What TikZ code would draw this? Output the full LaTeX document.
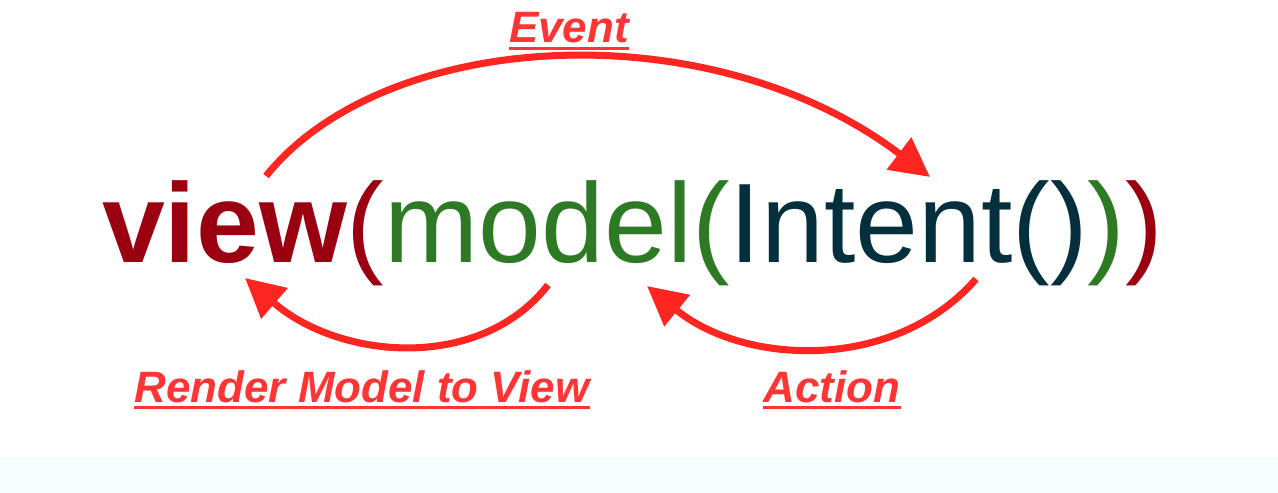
\documentclass[tikz,border=0pt]{standalone}
\usepackage{fontspec}
\setmainfont{Liberation Sans}
\usepackage{xcolor}
\definecolor{ViewRed}{HTML}{9A0010}
\definecolor{ModelGreen}{HTML}{2E7A24}
\definecolor{IntentNavy}{HTML}{04303D}
\definecolor{FlowRed}{HTML}{FF2622}
\definecolor{LabelRed}{HTML}{FF3535}
\definecolor{BandBg}{HTML}{F6FDFE}
\usepackage{tikz}
\usetikzlibrary{arrows.meta}
\tikzset{
  exprpart/.style={
    inner sep=0pt,
    outer sep=0pt,
    anchor=base west,
    font=\fontsize{64.3}{70}\selectfont
  },
  exprbold/.style={
    exprpart,
    font=\fontsize{64.3}{70}\selectfont\bfseries
  },
  flowlabel/.style={
    text=LabelRed,
    inner sep=0pt,
    anchor=base,
    font=\fontsize{25}{30}\selectfont\bfseries\itshape
  },
  labelrule/.style={
    draw=LabelRed,
    line width=1.7pt
  },
  flowline/.style={
    draw=FlowRed,
    line width=4pt,
    -{Triangle[length=0.78cm,width=0.78cm]}
  }
}

\begin{document}
\begin{tikzpicture}[x=0.02cm,y=-0.02cm]
  \useasboundingbox (0,0) rectangle (1278,493);
  \fill[BandBg] (0,457) rectangle (1278,493);
  % the expression
  \node[exprbold, text=ViewRed] (view) at (102,263) {view};
  \node[exprpart, text=ViewRed] (viewopen) at (view.base east) {(};
  \node[exprpart, text=ModelGreen] (model) at (viewopen.base east) {model};
  \node[exprpart, text=ModelGreen] (modelopen) at (model.base east) {(};
  \node[exprpart, text=IntentNavy] (intent) at (modelopen.base east) {Intent()};
  \node[exprpart, text=ModelGreen] (modelclose) at (intent.base east) {)};
  \node[exprpart, text=ViewRed] (viewclose) at (modelclose.base east) {)};
  % arrow ends
  \coordinate (eventfrom) at (266,176);
  \coordinate (eventto) at (930,177);
  \coordinate (actionfrom) at (976,279);
  \coordinate (actionto) at (647,286);
  \coordinate (renderfrom) at (548,285);
  \coordinate (renderto) at (245,278);
  \draw[flowline] (eventfrom) .. controls (385,28) and (710,10) .. (eventto);
  \draw[flowline] (actionfrom) .. controls (895,372) and (745,366) .. (actionto);
  \draw[flowline] (renderfrom) .. controls (480,372) and (340,360) .. (renderto);
  % labels
  \node[flowlabel] (eventlbl) at (569,43) {Event};
  \node[flowlabel] (renderlbl) at (362,402) {Render Model to View};
  \node[flowlabel] (actionlbl) at (832,402) {Action};
  \foreach \lbl in {eventlbl,renderlbl,actionlbl}{\draw[labelrule] ([yshift=-3pt]\lbl.base west) -- ([yshift=-3pt]\lbl.base east);}
\end{tikzpicture}
\end{document}
